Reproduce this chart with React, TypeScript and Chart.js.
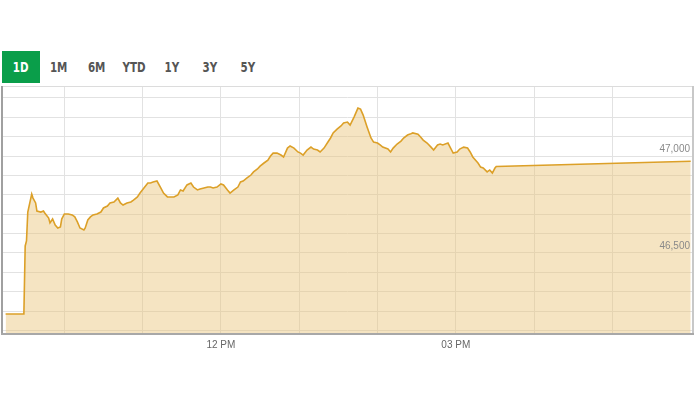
import { useEffect, useRef } from 'react';
import { Chart, registerables } from 'chart.js';

Chart.register(...registerables);

// minutes since midnight
const times = [
  555, 569, 570, 571, 572, 575, 576, 578, 579, 582, 584, 585, 588, 589, 591, 593, 595, 597, 598, 600,
  603, 606, 608, 610, 612, 615, 616, 618, 620, 622, 625, 628, 630, 633, 635, 638, 641, 643, 645, 648,
  651, 653, 656, 658, 661, 664, 666, 668, 671, 674, 676, 679, 681, 684, 687, 689, 691, 694, 697, 699,
  702, 704, 707, 710, 712, 714, 717, 720, 722, 725, 727, 730, 733, 735, 737, 740, 743, 745, 748, 750,
  753, 756, 758, 760, 763, 766, 768, 771, 773, 776, 779, 781, 783, 786, 789, 791, 794, 796, 799, 802,
  804, 806, 809, 812, 814, 817, 819, 822, 825, 827, 829, 832, 835, 837, 840, 842, 844, 848, 850, 852,
  855, 858, 860, 863, 865, 867, 871, 873, 875, 878, 881, 883, 886, 888, 890, 894, 896, 898, 901, 903,
  906, 909, 911, 913, 917, 919, 921, 924, 926, 928, 930, 931, 1080,
];

const values = [
  46185, 46185, 46536, 46562, 46711, 46804, 46783, 46758, 46716, 46711, 46716, 46706, 46680, 46655, 46675, 46644, 46629, 46634, 46675, 46701,
  46701, 46696, 46686, 46660, 46629, 46619, 46629, 46670, 46686, 46696, 46701, 46711, 46732, 46742, 46758, 46763, 46783, 46758, 46747, 46758,
  46763, 46773, 46789, 46809, 46835, 46861, 46861, 46866, 46871, 46835, 46809, 46789, 46789, 46789, 46799, 46825, 46820, 46851, 46861, 46840,
  46825, 46830, 46835, 46840, 46840, 46835, 46840, 46856, 46851, 46825, 46809, 46825, 46840, 46866, 46871, 46887, 46902, 46918, 46933, 46948,
  46964, 46979, 47000, 47015, 47015, 47005, 46995, 47041, 47052, 47041, 47021, 47015, 47005, 47031, 47046, 47036, 47031, 47021, 47041, 47072,
  47093, 47119, 47139, 47155, 47170, 47175, 47160, 47201, 47247, 47242, 47211, 47150, 47093, 47072, 47067, 47057, 47046, 47036, 47021, 47041,
  47062, 47077, 47093, 47108, 47113, 47119, 47113, 47098, 47082, 47067, 47046, 47031, 47057, 47062, 47057, 47067, 47041, 47015, 47021, 47036,
  47046, 47041, 47021, 46995, 46964, 46943, 46938, 46918, 46928, 46912, 46938, 46946, 46973,
];

const yGridValues = [46100, 46200, 46300, 46400, 46500, 46600, 46700, 46800, 46900, 47000, 47100, 47200, 47300];
const yLabelValues = [46500, 47000];
const xGridValues = [600, 660, 720, 780, 840, 900, 960, 1020];
const xLabelMap: Record<number, string> = { 720: '12 PM', 900: '03 PM' };
const ranges = ['1D', '1M', '6M', 'YTD', '1Y', '3Y', '5Y'];

export default function App() {
  const ref = useRef<HTMLCanvasElement | null>(null);

  useEffect(() => {
    if (!ref.current) return;
    const framePlugin = {
      id: 'frame',
      afterDatasetsDraw(chart: any) {
        const { ctx, chartArea: a } = chart;
        ctx.save();
        ctx.fillStyle = '#dcdcdc';
        ctx.fillRect(a.left, a.top - 1, a.right - a.left, 1);
        ctx.fillStyle = '#c8c8c8';
        ctx.fillRect(a.right, a.top - 1, 2, a.bottom - a.top + 1);
        ctx.fillStyle = '#a0a0a0';
        ctx.fillRect(a.left - 2, a.top - 1, 2, a.bottom - a.top + 2);
        ctx.fillStyle = '#a8a8a8';
        ctx.fillRect(a.left - 2, a.bottom - 1, a.right - a.left + 4, 2);
        // y labels drawn just above their grid lines, inside the plot
        const ys = chart.scales.y;
        ctx.font = '10px "Liberation Sans", Arial, sans-serif';
        ctx.fillStyle = '#8a8a8a';
        ctx.textAlign = 'right';
        ctx.textBaseline = 'middle';
        for (const v of yLabelValues) {
          const py = ys.getPixelForValue(v);
          ctx.fillText(v.toLocaleString('en-US'), a.right - 2, py - 7);
        }
        ctx.restore();
      },
    };

    const chart = new Chart(ref.current, {
      type: 'line',
      data: {
        datasets: [
          {
            data: times.map((t, i) => ({ x: t, y: values[i] })),
            borderColor: 'rgb(220,160,40)',
            borderWidth: 1.6,
            backgroundColor: 'rgba(232,196,120,0.45)',
            fill: 'start',
            pointRadius: 0,
            tension: 0,
          },
        ],
      },
      options: {
        animation: false,
        responsive: false,
        devicePixelRatio: 1,
        layout: { padding: { left: 3, top: 87, right: 8, bottom: 0 } },
        plugins: { legend: { display: false }, tooltip: { enabled: false } },
        scales: {
          x: {
            type: 'linear',
            min: 553,
            max: 1081,
            afterBuildTicks: (s: any) => {
              s.ticks = xGridValues.map((v) => ({ value: v }));
            },
            afterFit: (s: any) => {
              s.height = 66;
            },
            grid: { color: '#e2e2e2', drawTicks: false },
            border: { display: false },
            ticks: {
              autoSkip: false,
              maxRotation: 0,
              padding: 5,
              color: '#666',
              font: { size: 10, family: '"Liberation Sans", Arial, sans-serif' },
              callback: (v: any) => xLabelMap[v as number] ?? '',
            },
          },
          y: {
            position: 'right',
            min: 46082,
            max: 47356,
            afterBuildTicks: (s: any) => {
              s.ticks = yGridValues.map((v) => ({ value: v }));
            },
            afterFit: (s: any) => {
              s.width = 0;
            },
            grid: { color: '#e2e2e2', drawTicks: false },
            border: { display: false },
            ticks: { display: false },
          },
        },
      },
      plugins: [framePlugin],
    });
    return () => chart.destroy();
  }, []);

  return (
    <div style={{ position: 'fixed', left: 0, top: 0, width: 700, height: 400, background: '#fff', overflow: 'hidden' }}>
      {ranges.map((r, i) => {
        const cx = 21 + 37.8 * i;
        const active = i === 0;
        return (
          <div
            key={r}
            style={{
              position: 'absolute',
              left: cx - 19,
              top: 51,
              width: 38,
              height: 32,
              lineHeight: '32px',
              textAlign: 'center',
              background: active ? '#0a9e4a' : 'transparent',
              color: active ? '#fff' : '#555',
              fontFamily: '"Liberation Sans Narrow", "DejaVu Sans Condensed", "Roboto Condensed", Arial, sans-serif',
              fontWeight: 700,
              fontSize: 14,
            }}
          >
            <span style={{ display: 'inline-block', transform: 'scaleX(0.82)' }}>{r}</span>
          </div>
        );
      })}
      <canvas ref={ref} width={700} height={400} style={{ position: 'absolute', left: 0, top: 0, width: 700, height: 400 }} />
    </div>
  );
}
